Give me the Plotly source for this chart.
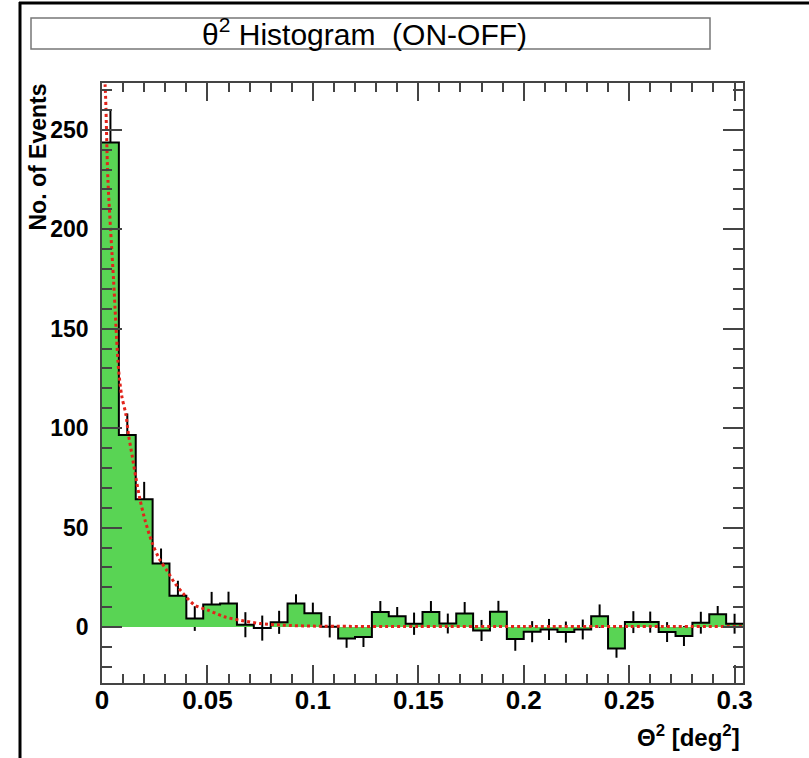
import plotly.graph_objects as go

# ---------------- data ----------------
bin_width = 0.008
bin_left = [0.000, 0.008, 0.016, 0.024, 0.032, 0.040, 0.048, 0.056, 0.064, 0.072,
            0.080, 0.088, 0.096, 0.104, 0.112, 0.120, 0.128, 0.136, 0.144, 0.152,
            0.160, 0.168, 0.176, 0.184, 0.192, 0.200, 0.208, 0.216, 0.224, 0.232,
            0.240, 0.248, 0.256, 0.264, 0.272, 0.280, 0.288, 0.296]
counts = [243.6, 96.5, 64.3, 32.0, 15.7, 4.3, 11.4, 11.8, 1.2, -0.5,
          2.4, 11.9, 6.9, 0.2, -5.7, -5.0, 7.6, 5.5, 1.7, 7.6,
          1.8, 6.8, -1.7, 7.7, -6.0, -2.3, -1.2, -2.5, -1.2, 5.5,
          -10.7, 2.5, 2.5, -2.5, -4.5, 2.2, 6.4, 1.7]
errors = [16.2, 10.9, 8.7, 7.5, 7.6, 6.2, 6.3, 6.0, 6.3, 6.3,
          5.8, 4.6, 5.4, 5.4, 4.7, 5.0, 5.5, 4.6, 5.6, 5.5,
          5.0, 5.8, 5.3, 5.5, 5.9, 5.3, 5.3, 5.3, 5.0, 5.9,
          4.7, 5.5, 5.3, 5.0, 5.0, 5.5, 4.2, 5.0]
fit_x = [0.0005, 0.0015, 0.0028, 0.0055, 0.0079, 0.0094, 0.0113, 0.0126, 0.0144,
         0.0160, 0.0181, 0.0204, 0.0239, 0.0275, 0.0307, 0.0346, 0.0385, 0.0440,
         0.0503, 0.0580, 0.0660, 0.0750, 0.0850, 0.1000, 0.1500, 0.2000, 0.2500, 0.3040]
fit_y = [285, 272, 225, 174, 129, 116, 107, 96.5, 85.6,
         75.5, 63.8, 53.8, 42.0, 33.7, 28.6, 22.0, 16.9, 11.0,
         8.5, 5.2, 3.3, 1.8, 1.0, 0.5, 0.3, 0.3, 0.3, 0.3]
x_tickvals = [0, 0.05, 0.1, 0.15, 0.2, 0.25, 0.3]
x_ticktext = ["0", "0.05", "0.1", "0.15", "0.2", "0.25", "0.3"]
y_tickvals = [0, 50, 100, 150, 200, 250]
y_ticktext = ["0", "50", "100", "150", "200", "250"]

# ---------------- geometry ----------------
W, H = 809, 758
L, R, T, B = 102, 66, 83, 75
PW, PH = W - L - R, H - T - B


def px(xp):
    return (xp - L) / PW


def py(yp):
    return (H - B - yp) / PH


centers = [x + bin_width / 2 for x in bin_left]
step_x = bin_left + [bin_left[-1] + bin_width]
step_y = counts + [counts[-1]]

GREEN = "#59d454"
fig = go.Figure()

# error bars (drawn first so the fill covers their inner part)
fig.add_trace(go.Scatter(
    x=centers, y=counts, mode="markers",
    marker=dict(size=1, color="rgba(0,0,0,0)"),
    error_y=dict(type="data", array=errors, color="black", thickness=2, width=0),
    hoverinfo="skip", showlegend=False))

# filled histogram
fig.add_trace(go.Scatter(
    x=step_x, y=step_y, mode="lines", line=dict(shape="hv", width=0, color=GREEN),
    fill="tozeroy", fillcolor=GREEN, showlegend=False))

# histogram outline
fig.add_trace(go.Scatter(
    x=step_x, y=step_y, mode="lines", line=dict(shape="hv", width=2, color="black"),
    showlegend=False))

# fit curve
fig.add_trace(go.Scatter(
    x=fit_x, y=fit_y, mode="lines",
    line=dict(shape="spline", smoothing=0.8, width=3, color="#e2231a", dash="dot"),
    showlegend=False))

FONT = "Liberation Sans, Arial, sans-serif"
axcol = "#444444"

fig.update_xaxes(
    range=[0, 0.304], tickmode="array", tickvals=x_tickvals, ticktext=x_ticktext,
    ticks="inside", ticklen=18, tickwidth=1.5, tickcolor=axcol,
    minor=dict(tickmode="linear", tick0=0, dtick=0.01, ticks="inside", ticklen=9,
               tickwidth=1.5, tickcolor=axcol),
    showline=True, linecolor=axcol, linewidth=1.5, mirror="ticks",
    showgrid=False, zeroline=False, ticklabelstandoff=-7,
    tickfont=dict(family=FONT, size=26, color="black", weight="bold"))

fig.update_yaxes(
    range=[-28.1, 273.5], tickmode="array", tickvals=y_tickvals, ticktext=y_ticktext,
    ticks="inside", ticklen=20, tickwidth=1.5, tickcolor=axcol,
    minor=dict(tickmode="linear", tick0=0, dtick=10, ticks="inside", ticklen=10,
               tickwidth=1.5, tickcolor=axcol),
    showline=True, linecolor=axcol, linewidth=1.5, mirror="ticks",
    showgrid=False, zeroline=False, ticklabelstandoff=7,
    tickfont=dict(family=FONT, size=23, color="black", weight="bold"))

shapes = [
    # title box
    dict(type="rect", xref="paper", yref="paper", x0=px(31), x1=px(710), y0=py(49), y1=py(18),
         line=dict(color="#777777", width=1.5), fillcolor="white", layer="below"),
    # canvas border lines (left and top)
    dict(type="line", xref="paper", yref="paper", x0=px(20), x1=px(20), y0=py(H), y1=py(2),
         line=dict(color="black", width=3)),
    dict(type="line", xref="paper", yref="paper", x0=px(19), x1=px(W), y0=py(3), y1=py(3),
         line=dict(color="black", width=3)),
]

annotations = [
    dict(text="θ<sup>2</sup> Histogram\u00a0\u00a0(ON-OFF)", xref="paper", yref="paper",
         x=px(364), y=py(32), xanchor="center", yanchor="middle", showarrow=False,
         font=dict(family=FONT, size=30, color="black")),
    dict(text="No. of Events", xref="paper", yref="paper", x=px(38), y=py(82),
         xanchor="center", yanchor="top", textangle=-90, showarrow=False,
         font=dict(family=FONT, size=23, color="black", weight="bold")),
    dict(text="Θ<sup>2</sup> [deg<sup>2</sup>]", xref="paper", yref="paper", x=px(742), y=py(736),
         xanchor="right", yanchor="middle", showarrow=False,
         font=dict(family=FONT, size=24, color="black", weight="bold")),
]

fig.update_layout(
    width=W, height=H, margin=dict(l=L, r=R, t=T, b=B, autoexpand=False),
    paper_bgcolor="white", plot_bgcolor="white", showlegend=False,
    shapes=shapes, annotations=annotations)

fig.write_html("out.html", config={"displayModeBar": False},
               post_script="document.body.style.margin='0px';document.body.style.overflow='hidden';")
